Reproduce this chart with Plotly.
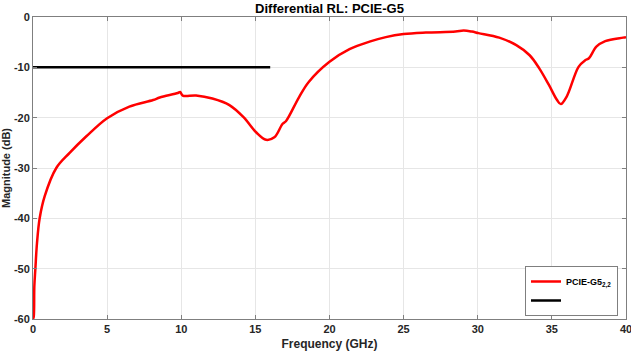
import plotly.graph_objects as go

freq_ghz = [0.0, 0.05, 0.09, 0.16, 0.27, 0.45, 0.79, 1.57, 2.47, 3.6, 5.0, 6.5, 8.1, 8.55, 9.77, 9.93,
            10.1, 11.0, 12.1, 13.25, 14.2, 15.05, 15.72, 16.28, 16.84, 17.06, 17.95, 18.6, 20.0,
            21.35, 22.7, 23.8, 25.0, 26.5, 28.5, 29.05, 29.6, 30.05, 31.45, 32.6, 33.5, 34.15,
            34.8, 35.35, 35.6, 36.0, 36.8, 37.25, 37.5, 38.0, 38.6, 39.8, 40.0]
rl_db = [-60.0, -59.5, -53.5, -50.0, -44.9, -40.0, -35.6, -30.0, -27.0, -23.7, -20.1, -17.8, -16.5,
         -16.0, -15.1, -14.9, -15.6, -15.6, -16.2, -17.5, -19.9, -22.9, -24.4, -23.9, -21.2,
         -20.7, -15.9, -12.9, -8.9, -6.4, -4.9, -4.0, -3.4, -3.1, -2.9, -2.7, -2.9, -3.2, -4.1,
         -5.6, -7.6, -10.2, -13.5, -16.5, -17.3, -15.8, -9.9, -8.6, -8.2, -5.9, -4.8, -4.1, -4.0]

limit_freq = [0.0, 16.0]
limit_db = [-10.0, -10.0]

x_ticks = [0, 5, 10, 15, 20, 25, 30, 35, 40]
y_ticks = [0, -10, -20, -30, -40, -50, -60]

font_family = "Liberation Sans, Arial, sans-serif"

fig = go.Figure()
fig.add_trace(go.Scatter(x=freq_ghz, y=rl_db, mode="lines",
                         line=dict(color="#ff0000", width=2.5, shape="spline", smoothing=1.0),
                         name="<b>PCIE-G5<sub>2,2</sub></b>"))
fig.add_trace(go.Scatter(x=limit_freq, y=limit_db, mode="lines", line=dict(color="#000000", width=2.5),
                         name="<span style='color:white'>mask</span>"))

axis_common = dict(showline=True, linecolor="#7f7f7f", linewidth=1, mirror="ticks", ticks="inside",
                   ticklen=4, tickcolor="#7f7f7f", showgrid=True, gridcolor="#e6e6e6", gridwidth=1,
                   zeroline=False, automargin=False, ticklabeloverflow="allow",
                   tickfont=dict(family=font_family, size=11, color="#262626"))

fig.update_layout(
    width=631, height=351,
    margin=dict(l=33, r=5, t=17, b=32, autoexpand=False),
    paper_bgcolor="white", plot_bgcolor="white",
    title=dict(text="<b>Differential RL: PCIE-G5</b>", x=(33 + 626) / 2 / 631, xanchor="center",
               y=1 - 8 / 351, yanchor="middle", font=dict(family=font_family, size=13, color="black")),
    xaxis=dict(range=[0, 40], tickvals=x_ticks, ticktext=[f"<b>{v}</b>" for v in x_ticks],
               title=dict(text="<b>Frequency (GHz)</b>", standoff=6,
                          font=dict(family=font_family, size=12, color="#262626")), **axis_common),
    yaxis=dict(range=[-60, 0], tickvals=y_ticks, ticktext=[f"<b>{v}</b>" for v in y_ticks],
               title=dict(text="<b>Magnitude (dB)</b>", standoff=4,
                          font=dict(family=font_family, size=11, color="#262626")), **axis_common),
    legend=dict(x=(525 - 33) / 593, y=(319 - 316) / 302, xanchor="left", yanchor="bottom",
                bgcolor="white", bordercolor="#7f7f7f", borderwidth=1,
                font=dict(family=font_family, size=9, color="black"),
                tracegroupgap=0, itemwidth=30),
    showlegend=True,
)

fig.write_html("out.html")
